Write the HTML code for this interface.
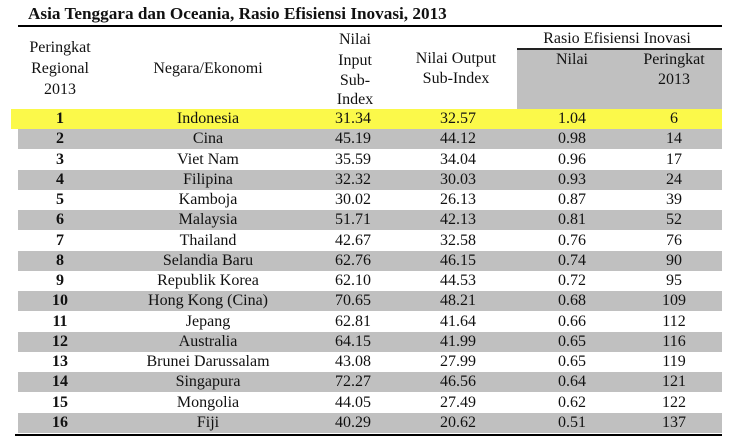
<!DOCTYPE html>
<html><head><meta charset="utf-8"><style>
body{margin:0;width:735px;height:442px;background:#fff;position:relative;overflow:hidden;font-family:"Liberation Serif",serif;color:#111}
.t{position:absolute;font-size:16px;line-height:20px;white-space:nowrap;transform:translateX(-50%)}
.b{font-weight:bold}
.r{position:absolute;left:18px;width:704px;height:20px}
</style></head><body>
<div style="position:absolute;left:28px;top:4px;font-size:17.2px;font-weight:bold;white-space:nowrap">Asia Tenggara dan Oceania, Rasio Efisiensi Inovasi, 2013</div>
<div style="position:absolute;left:18px;top:25px;width:704px;height:2px;background:#000"></div>
<div style="position:absolute;left:517px;top:48px;width:205px;height:60px;background:#c0c0c0;border-top:2px solid #222"></div>
<div class="t" style="left:60px;top:38px">Peringkat</div>
<div class="t" style="left:60px;top:59px">Regional</div>
<div class="t" style="left:60px;top:80px">2013</div>
<div class="t" style="left:208px;top:59px">Negara/Ekonomi</div>
<div class="t" style="left:355px;top:30px">Nilai</div>
<div class="t" style="left:355px;top:51px">Input</div>
<div class="t" style="left:355px;top:71px">Sub-</div>
<div class="t" style="left:355px;top:90px">Index</div>
<div class="t" style="left:456px;top:49px">Nilai Output</div>
<div class="t" style="left:456px;top:69px">Sub-Index</div>
<div class="t" style="left:617px;top:29px">Rasio Efisiensi Inovasi</div>
<div class="t" style="left:572px;top:50px">Nilai</div>
<div class="t" style="left:674px;top:50px">Peringkat</div>
<div class="t" style="left:674px;top:70px">2013</div>
<div id="rows"></div>
<div style="position:absolute;left:15px;top:434px;width:707px;height:2px;background:#000"></div>
<script>
var d=[["Indonesia","31.34","32.57","1.04","6"],["Cina","45.19","44.12","0.98","14"],["Viet Nam","35.59","34.04","0.96","17"],["Filipina","32.32","30.03","0.93","24"],["Kamboja","30.02","26.13","0.87","39"],["Malaysia","51.71","42.13","0.81","52"],["Thailand","42.67","32.58","0.76","76"],["Selandia Baru","62.76","46.15","0.74","90"],["Republik Korea","62.10","44.53","0.72","95"],["Hong Kong (Cina)","70.65","48.21","0.68","109"],["Jepang","62.81","41.64","0.66","112"],["Australia","64.15","41.99","0.65","116"],["Brunei Darussalam","43.08","27.99","0.65","119"],["Singapura","72.27","46.56","0.64","121"],["Mongolia","44.05","27.49","0.62","122"],["Fiji","40.29","20.62","0.51","137"]];
var h="",xs=[208,353,458,572,674];
d.forEach(function(r,i){var y=109+i*20.25;
var bg=i==0?"#fbf94a":(i%2?"#c0c0c0":"#fff");
h+='<div class="r" style="top:'+y+'px;background:'+bg+(i==0?';left:11px;width:711px':'')+'"></div>';
h+='<div class="t b" style="left:60px;top:'+y+'px">'+(i+1)+'</div>';
r.forEach(function(v,j){h+='<div class="t" style="left:'+xs[j]+'px;top:'+y+'px">'+v+'</div>';});});
document.getElementById("rows").innerHTML=h;
</script>
</body></html>
